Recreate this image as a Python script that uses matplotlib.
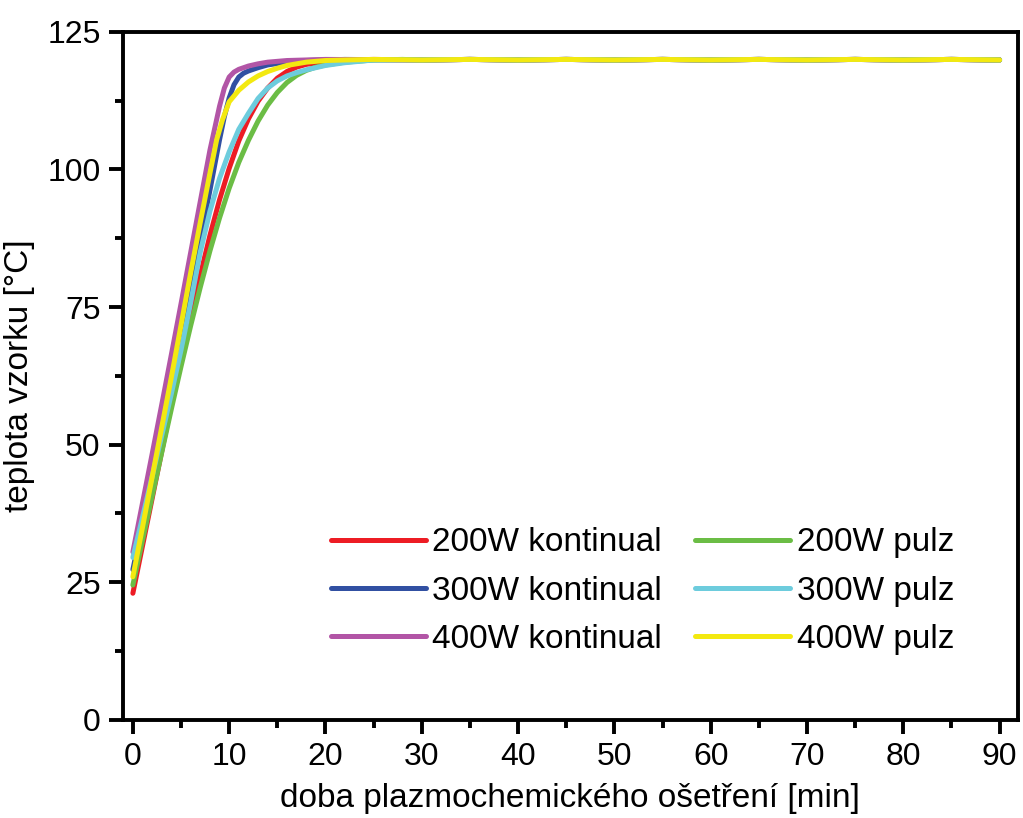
import matplotlib
matplotlib.use("Agg")
import matplotlib.pyplot as plt
from matplotlib.ticker import MultipleLocator

plt.rcParams["font.family"] = ["Liberation Sans", "DejaVu Sans"]

TICK_SIZE = 23
LABEL_SIZE = 24
LEGEND_SIZE = 24

# plateau shared by all series (typed readings, ~120 °C)
plateau_t = [30, 35, 40, 45, 50, 55, 60, 65, 70, 75, 80, 85, 90]
plateau_T = [119.9, 120.0, 119.9, 120.0, 119.9, 120.0, 119.9, 120.0, 119.9, 120.0, 119.9, 120.0, 119.9]

t_200k = [0, 1, 2, 3, 4, 5, 6, 7, 8, 9, 10, 11, 12, 13, 14, 15, 16, 17, 18, 20, 22, 25]
T_200k = [23, 31.6, 40.2, 48.8, 57.4, 65.5, 73.2, 80.8, 88, 94.5, 100.2, 105.2, 109.2,
          112.4, 114.8, 116.6, 117.8, 118.6, 119.1, 119.6, 119.9, 120]

t_300k = [0, 1, 2, 3, 4, 5, 6, 7, 8, 9, 9.5, 10, 10.5, 11, 11.5, 12, 13, 14, 16, 18, 20, 22]
T_300k = [27.3, 35.8, 44.3, 52.8, 61.3, 69.9, 78.5, 87.2, 96.2, 105.4, 109.6, 113, 115.4,
          116.8, 117.5, 117.9, 118.5, 119, 119.5, 119.8, 119.9, 120]

t_400k = [0, 1, 2, 3, 4, 5, 6, 7, 8, 9, 9.5, 10, 10.5, 11, 12, 13, 14, 16, 18, 20]
T_400k = [30.5, 39.4, 48.3, 57.3, 66.4, 75.6, 84.9, 94.2, 103.5, 111.5, 114.8, 116.8,
          117.7, 118.2, 118.8, 119.2, 119.5, 119.8, 119.9, 120]

t_200p = [0, 1, 2, 3, 4, 5, 6, 7, 8, 9, 10, 11, 12, 13, 14, 15, 16, 17, 18, 19, 20, 22, 25, 28]
T_200p = [24.5, 32.6, 40.6, 48.6, 56.5, 64.2, 71.6, 78.6, 85.2, 91.2, 96.6, 101.3, 105.3,
          108.8, 111.7, 114, 115.8, 117.1, 118, 118.6, 119, 119.5, 119.9, 120]

t_300p = [0, 1, 2, 3, 4, 5, 6, 7, 8, 9, 10, 11, 12, 13, 14, 15, 16, 17, 18, 20, 22, 25]
T_300p = [29.5, 36.8, 44.2, 51.7, 59.3, 67.2, 75.8, 85, 92.4, 98.4, 103.2, 107.3, 110.2,
          112.9, 114.8, 116.1, 117, 117.6, 118.1, 118.9, 119.4, 119.9]

t_400p = [0, 1, 2, 3, 4, 5, 6, 7, 8, 8.7, 9.3, 10, 11, 12, 13, 14, 15, 16, 18, 20, 22, 25]
T_400p = [26, 35, 44.1, 53.2, 62.3, 71.7, 81.2, 90.4, 99.3, 105.4, 109, 112.3, 114.4,
          115.9, 117, 117.8, 118.4, 118.9, 119.5, 119.8, 119.9, 120]

series = [
    ("200W kontinual", t_200k, T_200k, "#ED1C24"),
    ("300W kontinual", t_300k, T_300k, "#3150A2"),
    ("400W kontinual", t_400k, T_400k, "#B255A6"),
    ("200W pulz", t_200p, T_200p, "#6BBD45"),
    ("300W pulz", t_300p, T_300p, "#6DCCDD"),
    ("400W pulz", t_400p, T_400p, "#F3E910"),
]

fig = plt.figure(figsize=(10.23, 8.18), dpi=100)
ax = fig.add_axes([0.120, 0.120, 0.875, 0.841])

for label, t, T, color in series:
    ax.plot(t + plateau_t, T + plateau_T, color=color, linewidth=3.6,
            solid_capstyle="round", label=label)

ax.set_xlim(-1.05, 91.9)
ax.set_ylim(0, 125)
ax.xaxis.set_major_locator(MultipleLocator(10))
ax.xaxis.set_minor_locator(MultipleLocator(5))
ax.yaxis.set_major_locator(MultipleLocator(25))
ax.yaxis.set_minor_locator(MultipleLocator(12.5))

for spine in ax.spines.values():
    spine.set_linewidth(2.8)
ax.tick_params(which="major", direction="out", length=10, width=2.8,
               labelsize=TICK_SIZE, pad=6)
ax.tick_params(which="minor", direction="out", length=6, width=2.8)

ax.set_xlabel("doba plazmochemického ošetření [min]", fontsize=LABEL_SIZE, labelpad=8)
ax.set_ylabel("teplota vzorku [°C]", fontsize=LABEL_SIZE, labelpad=9)

ax.legend(ncol=2, loc="lower right", bbox_to_anchor=(0.944, 0.075), frameon=False,
          fontsize=LEGEND_SIZE, handlelength=2.85, handletextpad=0.2,
          columnspacing=1.0, labelspacing=0.52, borderaxespad=0)

fig.savefig("out.png", dpi=100)
